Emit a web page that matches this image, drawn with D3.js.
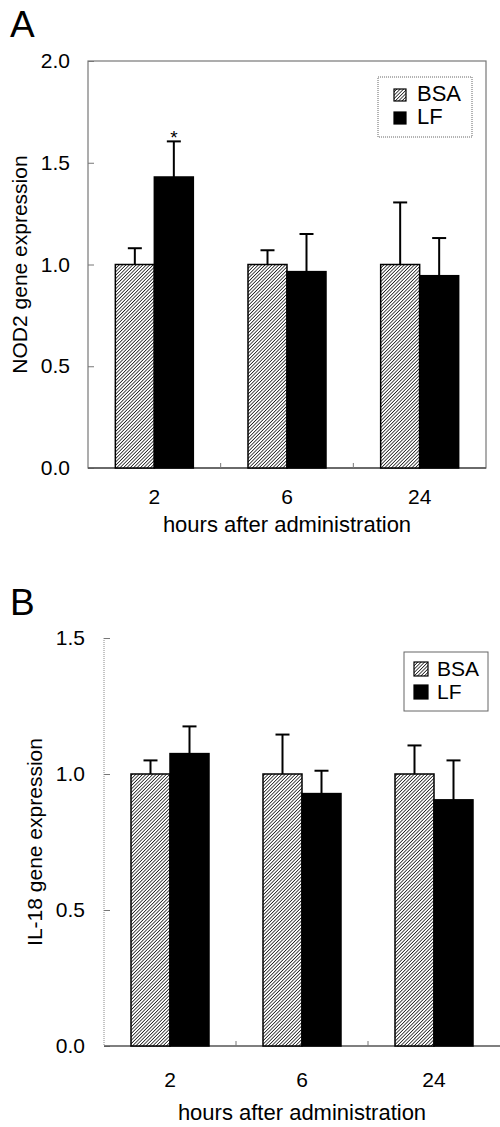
<!DOCTYPE html>
<html>
<head>
<meta charset="utf-8">
<script src="https://cdn.jsdelivr.net/npm/d3@7"></script>
<style>
  body { margin: 0; background: #fff; }
  text { font-family: "Liberation Sans", Arial, sans-serif; fill: #000; }
</style>
</head>
<body>
<script>
const hours = ["2", "6", "24"];
const series = ["BSA", "LF"];

// panel A: NOD2
const nodBSA = [1.0, 1.0, 1.0];
const nodBSAErr = [1.08, 1.07, 1.305];
const nodLF = [1.43, 0.965, 0.945];
const nodLFErr = [1.605, 1.15, 1.13];
const nodTicks = [0, 0.5, 1.0, 1.5, 2.0];

// panel B: IL-18
const ilBSA = [1.0, 1.0, 1.0];
const ilBSAErr = [1.05, 1.145, 1.105];
const ilLF = [1.075, 0.928, 0.905];
const ilLFErr = [1.175, 1.012, 1.05];
const ilTicks = [0, 0.5, 1.0, 1.5];

const W = 500, H = 1127;
const svg = d3.select("body").append("svg").attr("width", W).attr("height", H);

const defs = svg.append("defs");
const P = 2.4;
const pat = defs.append("pattern")
  .attr("id", "hatch")
  .attr("patternUnits", "userSpaceOnUse")
  .attr("width", P).attr("height", P)
  .attr("patternTransform", "rotate(45)");
pat.append("rect").attr("width", P).attr("height", P).attr("fill", "#fff");
pat.append("line").attr("x1", 0).attr("y1", 0).attr("x2", 0).attr("y2", P)
  .attr("stroke", "#000").attr("stroke-width", 1.4);

function panel(cfg) {
  const g = svg.append("g");
  const x = d3.scaleBand().domain(hours).range([cfg.x0, cfg.x1]);
  const y = d3.scaleLinear().domain([0, cfg.ymax]).range([cfg.y0, cfg.y1]);
  const bw = 39;

  // panel letter
  g.append("text").attr("x", cfg.letterX).attr("y", cfg.letterY)
    .attr("font-size", 37).text(cfg.letter);

  if (cfg.frame) {
    g.append("rect").attr("x", cfg.x0).attr("y", cfg.y1)
      .attr("width", cfg.x1 - cfg.x0).attr("height", cfg.y0 - cfg.y1)
      .attr("fill", "none").attr("stroke", "#777").attr("stroke-width", 1.2);
  } else {
    g.append("line").attr("x1", cfg.x0).attr("x2", cfg.x0)
      .attr("y1", cfg.y1).attr("y2", cfg.y0)
      .attr("stroke", "#888").attr("stroke-dasharray", "1,1");
  }

  // y axis
  const yAxis = d3.axisLeft(y).tickValues(cfg.ticks).tickFormat(d3.format(".1f"))
    .tickSizeInner(-6).tickSizeOuter(0);
  const ya = g.append("g").attr("transform", `translate(${cfg.x0},0)`).call(yAxis);
  ya.select(".domain").remove();
  ya.selectAll(".tick line").attr("stroke", "#777");
  ya.selectAll(".tick text").attr("font-size", 21)
    .attr("font-family", "Liberation Sans, Arial, sans-serif")
    .attr("x", -cfg.labelGap);

  // x axis
  g.append("line").attr("x1", cfg.x0).attr("x2", cfg.x1)
    .attr("y1", cfg.y0).attr("y2", cfg.y0)
    .attr("stroke", "#555").attr("stroke-width", 1.5);
  hours.slice(1).forEach(h => {
    g.append("line").attr("x1", x(h)).attr("x2", x(h))
      .attr("y1", cfg.y0).attr("y2", cfg.y0 - 5)
      .attr("stroke", "#777").attr("stroke-width", 1);
  });
  g.selectAll(".xl").data(hours).join("text")
    .attr("x", d => x(d) + x.bandwidth() / 2).attr("y", cfg.y0 + cfg.xlOff)
    .attr("text-anchor", "middle").attr("font-size", 21).text(d => d);
  g.append("text").attr("x", (cfg.x0 + cfg.x1) / 2).attr("y", cfg.y0 + cfg.xtOff)
    .attr("text-anchor", "middle").attr("font-size", 22)
    .text("hours after administration");

  g.append("text")
    .attr("transform", `translate(${cfg.titleX},${(cfg.y0 + cfg.y1) / 2}) rotate(-90)`)
    .attr("text-anchor", "middle").attr("font-size", 21).text(cfg.title);

  // bars
  const sets = [
    { v: cfg.bsa, e: cfg.bsaErr, fill: "url(#hatch)", off: -bw },
    { v: cfg.lf, e: cfg.lfErr, fill: "#000", off: 0 }
  ];
  sets.forEach(s => {
    hours.forEach((h, i) => {
      const cx = x(h) + x.bandwidth() / 2;
      const bx = cx + s.off;
      const ex = bx + bw / 2;
      g.append("line").attr("x1", ex).attr("x2", ex)
        .attr("y1", y(s.v[i])).attr("y2", y(s.e[i]))
        .attr("stroke", "#000").attr("stroke-width", 2);
      g.append("line").attr("x1", ex - 7).attr("x2", ex + 7)
        .attr("y1", y(s.e[i])).attr("y2", y(s.e[i]))
        .attr("stroke", "#000").attr("stroke-width", 2);
      g.append("rect").attr("x", bx).attr("y", y(s.v[i]))
        .attr("width", bw).attr("height", y(0) - y(s.v[i]))
        .attr("fill", s.fill).attr("stroke", "#000").attr("stroke-width", 1.5);
    });
  });

  if (cfg.star) {
    const cx = x(hours[0]) + x.bandwidth() / 2 + bw / 2;
    g.append("text").attr("x", cx).attr("y", y(cfg.lfErr[0]) + 3)
      .attr("text-anchor", "middle").attr("font-size", 19).text("*");
  }

  // legend
  const L = cfg.legend;
  g.append("rect").attr("x", L.x).attr("y", L.y).attr("width", L.w).attr("height", L.h)
    .attr("fill", "#fff").attr("stroke", "#666").attr("stroke-width", 1)
    .attr("stroke-dasharray", cfg.frame ? "1,1" : null);
  series.forEach((s, i) => {
    const sy = L.y + L.rowY[i];
    g.append("rect").attr("x", L.sx).attr("y", sy - L.sw).attr("width", L.sw).attr("height", L.sw)
      .attr("fill", i === 0 ? "url(#hatch)" : "#000").attr("stroke", "#000").attr("stroke-width", 1.2);
    g.append("text").attr("x", L.tx).attr("y", sy).attr("font-size", L.fs).text(s);
  });
}

panel({
  letter: "A", letterX: 10, letterY: 37,
  x0: 88, x1: 486, y0: 468, y1: 61, ymax: 2.0, ticks: nodTicks,
  labelGap: 18, titleX: 27, title: "NOD2 gene expression",
  xlOff: 36, xtOff: 64,
  bsa: nodBSA, bsaErr: nodBSAErr, lf: nodLF, lfErr: nodLFErr,
  frame: true, star: true,
  legend: { x: 378, y: 77, w: 94, h: 60, sx: 394, sw: 12, tx: 417, rowY: [24, 47], fs: 22 }
});

panel({
  letter: "B", letterX: 10, letterY: 615,
  x0: 104, x1: 500, y0: 1046, y1: 638, ymax: 1.5, ticks: ilTicks,
  labelGap: 19, titleX: 42, title: "IL-18 gene expression",
  xlOff: 41, xtOff: 74,
  bsa: ilBSA, bsaErr: ilBSAErr, lf: ilLF, lfErr: ilLFErr,
  frame: false, star: false,
  legend: { x: 404, y: 652, w: 84, h: 59, sx: 414, sw: 14, tx: 437, rowY: [24, 47], fs: 21 }
});
</script>
</body>
</html>
